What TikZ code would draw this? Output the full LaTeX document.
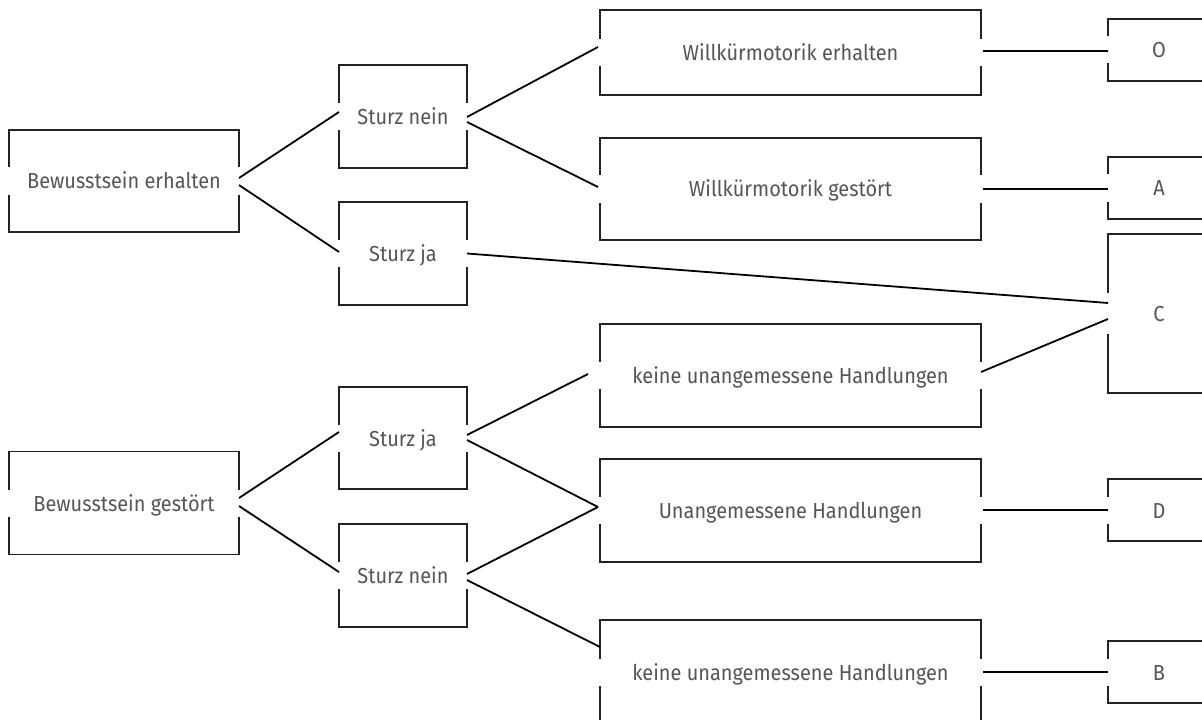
\documentclass[tikz,border=0pt]{standalone}
\usepackage{fontspec}
\setmainfont{Fira Sans}[FakeStretch=0.92]
\definecolor{txtcol}{HTML}{555555}
\definecolor{boxcol}{HTML}{222222}
\begin{document}
\begin{tikzpicture}[x=1bp,y=-1bp]
\tikzset{
 frame/.style={draw=boxcol, line width=1.4bp, inner sep=0pt, outer sep=0pt},
 lab/.style={fill=white, inner sep=0pt, outer sep=0pt, text=txtcol,
   font=\fontsize{21.7bp}{24bp}\selectfont, minimum height=27bp,
   text height=17bp, text depth=1bp},
 conn/.style={draw=black, line width=1.8bp},
}
\useasboundingbox (0,0) rectangle (1202,720);
\clip (0,0) rectangle (1202,720);
% frames
\node[frame, minimum width=230bp, minimum height=102bp] (be) at (124,181) {};
\node[frame, minimum width=230bp, minimum height=103bp] (bg) at (124,503) {};
\node[frame, minimum width=128bp, minimum height=103bp] (sn1) at (403,116.5) {};
\node[frame, minimum width=128bp, minimum height=103bp] (sj1) at (403,253.5) {};
\node[frame, minimum width=128bp, minimum height=102bp] (sj2) at (403,438) {};
\node[frame, minimum width=128bp, minimum height=103bp] (sn2) at (403,575.5) {};
\node[frame, minimum width=381bp, minimum height=85bp] (we) at (790.5,52.5) {};
\node[frame, minimum width=381bp, minimum height=102bp] (wg) at (790.5,189) {};
\node[frame, minimum width=381bp, minimum height=103bp] (ku) at (790.5,375.5) {};
\node[frame, minimum width=381bp, minimum height=103bp] (uh) at (790.5,510.5) {};
\node[frame, minimum width=381bp, minimum height=104bp] (kl) at (790.5,672) {};
\node[frame, minimum width=102bp, minimum height=62bp] (o) at (1159,50) {};
\node[frame, minimum width=102bp, minimum height=62bp] (a) at (1159,188) {};
\node[frame, minimum width=102bp, minimum height=159bp] (c) at (1159,313.5) {};
\node[frame, minimum width=102bp, minimum height=62bp] (d) at (1159,510) {};
\node[frame, minimum width=102bp, minimum height=62bp] (b) at (1159,672) {};
% labels
\node[lab, minimum width=236bp] (bel) at (be) {Bewusstsein erhalten};
\node[lab, minimum width=236bp] (bgl) at (bg) {Bewusstsein gestört};
\node[lab, minimum width=134bp] (sn1l) at (sn1) {Sturz nein};
\node[lab, minimum width=134bp] (sj1l) at (sj1) {Sturz ja};
\node[lab, minimum width=134bp] (sj2l) at (sj2) {Sturz ja};
\node[lab, minimum width=134bp] (sn2l) at (sn2) {Sturz nein};
\node[lab, minimum width=387bp] (wel) at (we) {Willkürmotorik erhalten};
\node[lab, minimum width=387bp] (wgl) at (wg) {Willkürmotorik gestört};
\node[lab, minimum width=387bp] (kul) at (ku) {keine unangemessene Handlungen};
\node[lab, minimum width=387bp] (uhl) at (uh) {Unangemessene Handlungen};
\node[lab, minimum width=387bp] (kll) at (kl) {keine unangemessene Handlungen};
\node[lab, minimum width=108bp] (ol) at (o) {O};
\node[lab, minimum width=108bp] (al) at (a) {A};
\node[lab, minimum width=108bp, minimum height=41bp] (cl) at (c) {C};
\node[lab, minimum width=108bp] (dl) at (d) {D};
\node[lab, minimum width=108bp] (bl) at (b) {B};
% connectors
\draw[conn] ([yshift=3bp]be.east) -- ([yshift=4.5bp]sn1.west);
\draw[conn] ([yshift=-4bp]be.east) -- ([yshift=1.5bp]sj1.west);
\draw[conn] ([yshift=-0.5bp]sn1.east) -- ([xshift=-2bp,yshift=5.5bp]we.west);
\draw[conn] ([yshift=-5.5bp]sn1.east) -- ([xshift=-2bp,yshift=2bp]wg.west);
\draw[conn] (sj1.east) -- ([yshift=10.5bp]c.west);
\draw[conn] ([xshift=2bp,yshift=1.5bp]we.east) -- ([yshift=-1bp]o.west);
\draw[conn] ([xshift=2bp]wg.east) -- ([yshift=-1bp]a.west);
\draw[conn] ([yshift=3.5bp]ku.east) -- ([yshift=-5.5bp]c.west);
\draw[conn] ([yshift=5bp]bg.east) -- ([yshift=6bp]sj2.west);
\draw[conn] ([yshift=-3bp]bg.east) -- ([yshift=3.5bp]sn2.west);
\draw[conn] ([yshift=3bp]sj2.east) -- ([xshift=-12bp,yshift=1.5bp]ku.west);
\draw[conn] ([yshift=-2bp]sj2.east) -- ([xshift=-2bp,yshift=3.5bp]uh.west);
\draw[conn] ([yshift=1.5bp]sn2.east) -- ([xshift=-2bp,yshift=3.5bp]uh.west);
\draw[conn] ([yshift=-4.5bp]sn2.east) -- ([yshift=25bp]kl.west);
\draw[conn] ([xshift=2bp,yshift=0.5bp]uh.east) -- ([yshift=0.5bp]uh.east -| d.west);
\draw[conn] ([xshift=2bp]kl.east) -- (kl.east -| b.west);
\end{tikzpicture}
\end{document}
